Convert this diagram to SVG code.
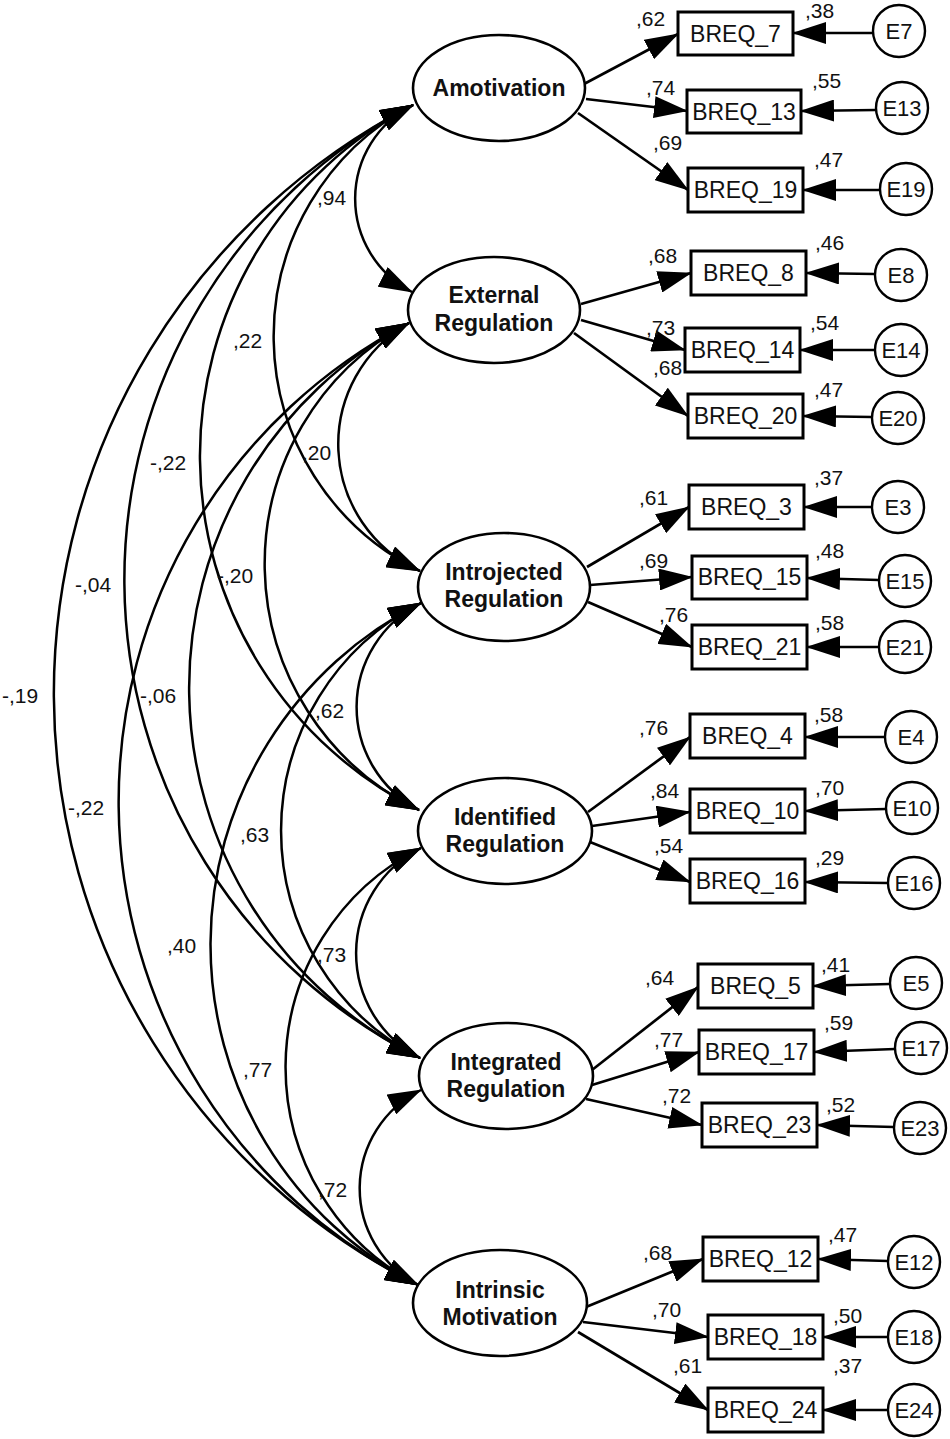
<svg xmlns="http://www.w3.org/2000/svg" width="950" height="1439" viewBox="0 0 950 1439">
<style>
.bg{fill:#fff}
.lat{fill:#fff;stroke:#000;stroke-width:2.6}
.box{fill:#fff;stroke:#000;stroke-width:3}
.err{fill:#fff;stroke:#000;stroke-width:2.4}
.ln{fill:none;stroke:#000;stroke-width:2.7}
.cv{fill:none;stroke:#000;stroke-width:2.5}
.lt{font-family:"Liberation Sans",Arial,sans-serif;font-weight:bold;font-size:23px;text-anchor:middle;fill:#111}
.bt{font-family:"Liberation Sans",Arial,sans-serif;font-size:23px;text-anchor:middle;fill:#111}
.et{font-family:"Liberation Sans",Arial,sans-serif;font-size:22px;text-anchor:middle;fill:#111}
.nt{font-family:"Liberation Sans",Arial,sans-serif;font-size:21px;fill:#111}
</style>
<defs>
<marker id="ah" viewBox="0 0 34 22" refX="33" refY="11" markerWidth="34" markerHeight="22" markerUnits="userSpaceOnUse" orient="auto-start-reverse">
<path d="M0,0 L34,11 L0,22 z" fill="#000"/>
</marker>
</defs>
<rect class="bg" x="0" y="0" width="950" height="1439"/>

<g id="connectors">
<g id="covariances">
<path class="cv" d="M413,105 A104.9,104.9 0 0 0 412,292" marker-start="url(#ah)" marker-end="url(#ah)"/>
<path class="cv" d="M413,105 A261.5,261.5 0 0 0 420,571" marker-start="url(#ah)" marker-end="url(#ah)"/>
<path class="cv" d="M413,105 A395.6,395.6 0 0 0 419,810" marker-start="url(#ah)" marker-end="url(#ah)"/>
<path class="cv" d="M413,105 A534.7,534.7 0 0 0 420,1058" marker-start="url(#ah)" marker-end="url(#ah)"/>
<path class="cv" d="M413,105 A662.1,662.1 0 0 0 418,1285" marker-start="url(#ah)" marker-end="url(#ah)"/>
<path class="cv" d="M409,323 A139.2,139.2 0 0 0 420,571" marker-start="url(#ah)" marker-end="url(#ah)"/>
<path class="cv" d="M409,323 A273.3,273.3 0 0 0 419,810" marker-start="url(#ah)" marker-end="url(#ah)"/>
<path class="cv" d="M409,323 A412.4,412.4 0 0 0 420,1058" marker-start="url(#ah)" marker-end="url(#ah)"/>
<path class="cv" d="M409,323 A539.8,539.8 0 0 0 418,1285" marker-start="url(#ah)" marker-end="url(#ah)"/>
<path class="cv" d="M421,603 A116.2,116.2 0 0 0 419,810" marker-start="url(#ah)" marker-end="url(#ah)"/>
<path class="cv" d="M421,603 A255.3,255.3 0 0 0 420,1058" marker-start="url(#ah)" marker-end="url(#ah)"/>
<path class="cv" d="M421,603 A382.7,382.7 0 0 0 418,1285" marker-start="url(#ah)" marker-end="url(#ah)"/>
<path class="cv" d="M421,848 A117.8,117.8 0 0 0 420,1058" marker-start="url(#ah)" marker-end="url(#ah)"/>
<path class="cv" d="M421,848 A245.2,245.2 0 0 0 418,1285" marker-start="url(#ah)" marker-end="url(#ah)"/>
<path class="cv" d="M421,1090 A109.4,109.4 0 0 0 418,1285" marker-start="url(#ah)" marker-end="url(#ah)"/>
</g>
<g id="loadings">
<line class="ln" x1="584" y1="84" x2="678" y2="34" marker-end="url(#ah)"/>
<line class="ln" x1="586" y1="99" x2="687" y2="111" marker-end="url(#ah)"/>
<line class="ln" x1="578" y1="113" x2="688" y2="190" marker-end="url(#ah)"/>
<line class="ln" x1="581" y1="304" x2="691" y2="273" marker-end="url(#ah)"/>
<line class="ln" x1="581" y1="320" x2="685" y2="350" marker-end="url(#ah)"/>
<line class="ln" x1="574" y1="333" x2="688" y2="416" marker-end="url(#ah)"/>
<line class="ln" x1="587" y1="567" x2="689" y2="507" marker-end="url(#ah)"/>
<line class="ln" x1="590" y1="585" x2="692" y2="577" marker-end="url(#ah)"/>
<line class="ln" x1="588" y1="602" x2="692" y2="647" marker-end="url(#ah)"/>
<line class="ln" x1="588" y1="812" x2="690" y2="737" marker-end="url(#ah)"/>
<line class="ln" x1="592" y1="826" x2="690" y2="812" marker-end="url(#ah)"/>
<line class="ln" x1="590" y1="842" x2="690" y2="882" marker-end="url(#ah)"/>
<line class="ln" x1="592" y1="1070" x2="698" y2="987" marker-end="url(#ah)"/>
<line class="ln" x1="592" y1="1085" x2="699" y2="1052" marker-end="url(#ah)"/>
<line class="ln" x1="586" y1="1099" x2="702" y2="1125" marker-end="url(#ah)"/>
<line class="ln" x1="586" y1="1307" x2="703" y2="1259" marker-end="url(#ah)"/>
<line class="ln" x1="583" y1="1322" x2="708" y2="1337" marker-end="url(#ah)"/>
<line class="ln" x1="578" y1="1332" x2="708" y2="1410" marker-end="url(#ah)"/>
</g>
<g id="errors">
<line class="ln" x1="873" y1="33" x2="793" y2="33" marker-end="url(#ah)"/>
<line class="ln" x1="876" y1="110" x2="801" y2="111" marker-end="url(#ah)"/>
<line class="ln" x1="880" y1="190" x2="803" y2="190" marker-end="url(#ah)"/>
<line class="ln" x1="875" y1="274" x2="806" y2="273" marker-end="url(#ah)"/>
<line class="ln" x1="875" y1="350" x2="800" y2="350" marker-end="url(#ah)"/>
<line class="ln" x1="872" y1="417" x2="803" y2="416" marker-end="url(#ah)"/>
<line class="ln" x1="872" y1="507" x2="804" y2="507" marker-end="url(#ah)"/>
<line class="ln" x1="879" y1="580" x2="807" y2="578" marker-end="url(#ah)"/>
<line class="ln" x1="879" y1="647" x2="807" y2="647" marker-end="url(#ah)"/>
<line class="ln" x1="885" y1="737" x2="805" y2="737" marker-end="url(#ah)"/>
<line class="ln" x1="886" y1="809" x2="805" y2="811" marker-end="url(#ah)"/>
<line class="ln" x1="888" y1="883" x2="805" y2="882" marker-end="url(#ah)"/>
<line class="ln" x1="890" y1="984" x2="813" y2="986" marker-end="url(#ah)"/>
<line class="ln" x1="895" y1="1049" x2="814" y2="1052" marker-end="url(#ah)"/>
<line class="ln" x1="894" y1="1127" x2="817" y2="1125" marker-end="url(#ah)"/>
<line class="ln" x1="888" y1="1261" x2="818" y2="1259" marker-end="url(#ah)"/>
<line class="ln" x1="888" y1="1337" x2="823" y2="1337" marker-end="url(#ah)"/>
<line class="ln" x1="888" y1="1410" x2="823" y2="1410" marker-end="url(#ah)"/>
</g>
<g id="cov-labels">
<text class="nt" x="317" y="205">,94</text>
<text class="nt" x="233" y="348">,22</text>
<text class="nt" x="150" y="470">-,22</text>
<text class="nt" x="75" y="592">-,04</text>
<text class="nt" x="2" y="703">-,19</text>
<text class="nt" x="302" y="460">,20</text>
<text class="nt" x="217" y="583">-,20</text>
<text class="nt" x="140" y="703">-,06</text>
<text class="nt" x="68" y="815">-,22</text>
<text class="nt" x="315" y="718">,62</text>
<text class="nt" x="240" y="842">,63</text>
<text class="nt" x="167" y="953">,40</text>
<text class="nt" x="317" y="962">,73</text>
<text class="nt" x="243" y="1077">,77</text>
<text class="nt" x="318" y="1197">,72</text>
</g>
<g id="path-labels">
<text class="nt" x="636" y="26">,62</text>
<text class="nt" x="646" y="95">,74</text>
<text class="nt" x="653" y="150">,69</text>
<text class="nt" x="805" y="18">,38</text>
<text class="nt" x="812" y="88">,55</text>
<text class="nt" x="814" y="167">,47</text>
<text class="nt" x="648" y="263">,68</text>
<text class="nt" x="815" y="250">,46</text>
<text class="nt" x="646" y="335">,73</text>
<text class="nt" x="810" y="330">,54</text>
<text class="nt" x="653" y="375">,68</text>
<text class="nt" x="814" y="397">,47</text>
<text class="nt" x="639" y="505">,61</text>
<text class="nt" x="814" y="485">,37</text>
<text class="nt" x="639" y="568">,69</text>
<text class="nt" x="815" y="558">,48</text>
<text class="nt" x="659" y="622">,76</text>
<text class="nt" x="815" y="630">,58</text>
<text class="nt" x="639" y="735">,76</text>
<text class="nt" x="814" y="722">,58</text>
<text class="nt" x="650" y="798">,84</text>
<text class="nt" x="815" y="795">,70</text>
<text class="nt" x="654" y="853">,54</text>
<text class="nt" x="815" y="865">,29</text>
<text class="nt" x="645" y="985">,64</text>
<text class="nt" x="821" y="972">,41</text>
<text class="nt" x="654" y="1047">,77</text>
<text class="nt" x="824" y="1030">,59</text>
<text class="nt" x="662" y="1103">,72</text>
<text class="nt" x="826" y="1112">,52</text>
<text class="nt" x="643" y="1260">,68</text>
<text class="nt" x="828" y="1242">,47</text>
<text class="nt" x="652" y="1317">,70</text>
<text class="nt" x="833" y="1323">,50</text>
<text class="nt" x="673" y="1373">,61</text>
<text class="nt" x="833" y="1373">,37</text>
</g>
</g>

<g id="amotivation"><ellipse class="lat" cx="499" cy="88" rx="86" ry="53"/><text class="lt" x="499" y="96">Amotivation</text></g>
<g id="external"><ellipse class="lat" cx="494" cy="310" rx="86" ry="53"/><text class="lt" x="494" y="303">External</text><text class="lt" x="494" y="331">Regulation</text></g>
<g id="introjected"><ellipse class="lat" cx="504" cy="587" rx="86" ry="54"/><text class="lt" x="504" y="580">Introjected</text><text class="lt" x="504" y="607">Regulation</text></g>
<g id="identified"><ellipse class="lat" cx="505" cy="831" rx="87" ry="53"/><text class="lt" x="505" y="825">Identified</text><text class="lt" x="505" y="852">Regulation</text></g>
<g id="integrated"><ellipse class="lat" cx="506" cy="1076" rx="87" ry="53"/><text class="lt" x="506" y="1070">Integrated</text><text class="lt" x="506" y="1097">Regulation</text></g>
<g id="intrinsic"><ellipse class="lat" cx="500" cy="1303" rx="87" ry="53"/><text class="lt" x="500" y="1298">Intrinsic</text><text class="lt" x="500" y="1325">Motivation</text></g>

<g id="breq7"><rect class="box" x="678" y="12" width="115" height="43"/><text class="bt" x="735.5" y="42">BREQ_7</text></g>
<g id="breq13"><rect class="box" x="687" y="90" width="114" height="43"/><text class="bt" x="744" y="120">BREQ_13</text></g>
<g id="breq19"><rect class="box" x="688" y="168" width="115" height="44"/><text class="bt" x="745.5" y="198">BREQ_19</text></g>
<g id="breq8"><rect class="box" x="691" y="251" width="115" height="44"/><text class="bt" x="748.5" y="281">BREQ_8</text></g>
<g id="breq14"><rect class="box" x="685" y="328" width="115" height="44"/><text class="bt" x="742.5" y="358">BREQ_14</text></g>
<g id="breq20"><rect class="box" x="688" y="394" width="115" height="44"/><text class="bt" x="745.5" y="424">BREQ_20</text></g>
<g id="breq3"><rect class="box" x="689" y="485" width="115" height="44"/><text class="bt" x="746.5" y="515">BREQ_3</text></g>
<g id="breq15"><rect class="box" x="692" y="556" width="115" height="43"/><text class="bt" x="749.5" y="585">BREQ_15</text></g>
<g id="breq21"><rect class="box" x="692" y="625" width="115" height="44"/><text class="bt" x="749.5" y="655">BREQ_21</text></g>
<g id="breq4"><rect class="box" x="690" y="714" width="115" height="44"/><text class="bt" x="747.5" y="744">BREQ_4</text></g>
<g id="breq10"><rect class="box" x="690" y="789" width="115" height="44"/><text class="bt" x="747.5" y="819">BREQ_10</text></g>
<g id="breq16"><rect class="box" x="690" y="859" width="115" height="44"/><text class="bt" x="747.5" y="889">BREQ_16</text></g>
<g id="breq5"><rect class="box" x="698" y="964" width="115" height="44"/><text class="bt" x="755.5" y="994">BREQ_5</text></g>
<g id="breq17"><rect class="box" x="699" y="1030" width="115" height="44"/><text class="bt" x="756.5" y="1060">BREQ_17</text></g>
<g id="breq23"><rect class="box" x="702" y="1103" width="115" height="44"/><text class="bt" x="759.5" y="1133">BREQ_23</text></g>
<g id="breq12"><rect class="box" x="703" y="1237" width="115" height="44"/><text class="bt" x="760.5" y="1267">BREQ_12</text></g>
<g id="breq18"><rect class="box" x="708" y="1315" width="115" height="44"/><text class="bt" x="765.5" y="1345">BREQ_18</text></g>
<g id="breq24"><rect class="box" x="708" y="1388" width="115" height="44"/><text class="bt" x="765.5" y="1418">BREQ_24</text></g>

<g id="e7"><circle class="err" cx="899" cy="31" r="26"/><text class="et" x="899" y="39">E7</text></g>
<g id="e13"><circle class="err" cx="902" cy="108" r="26"/><text class="et" x="902" y="116">E13</text></g>
<g id="e19"><circle class="err" cx="906" cy="189" r="26"/><text class="et" x="906" y="197">E19</text></g>
<g id="e8"><circle class="err" cx="901" cy="275" r="26"/><text class="et" x="901" y="283">E8</text></g>
<g id="e14"><circle class="err" cx="901" cy="350" r="26"/><text class="et" x="901" y="358">E14</text></g>
<g id="e20"><circle class="err" cx="898" cy="418" r="26"/><text class="et" x="898" y="426">E20</text></g>
<g id="e3"><circle class="err" cx="898" cy="507" r="26"/><text class="et" x="898" y="515">E3</text></g>
<g id="e15"><circle class="err" cx="905" cy="581" r="26"/><text class="et" x="905" y="589">E15</text></g>
<g id="e21"><circle class="err" cx="905" cy="647" r="26"/><text class="et" x="905" y="655">E21</text></g>
<g id="e4"><circle class="err" cx="911" cy="737" r="26"/><text class="et" x="911" y="745">E4</text></g>
<g id="e10"><circle class="err" cx="912" cy="808" r="26"/><text class="et" x="912" y="816">E10</text></g>
<g id="e16"><circle class="err" cx="914" cy="883" r="26"/><text class="et" x="914" y="891">E16</text></g>
<g id="e5"><circle class="err" cx="916" cy="983" r="26"/><text class="et" x="916" y="991">E5</text></g>
<g id="e17"><circle class="err" cx="921" cy="1048" r="26"/><text class="et" x="921" y="1056">E17</text></g>
<g id="e23"><circle class="err" cx="920" cy="1128" r="26"/><text class="et" x="920" y="1136">E23</text></g>
<g id="e12"><circle class="err" cx="914" cy="1262" r="26"/><text class="et" x="914" y="1270">E12</text></g>
<g id="e18"><circle class="err" cx="914" cy="1337" r="26"/><text class="et" x="914" y="1345">E18</text></g>
<g id="e24"><circle class="err" cx="914" cy="1410" r="26"/><text class="et" x="914" y="1418">E24</text></g>
</svg>
